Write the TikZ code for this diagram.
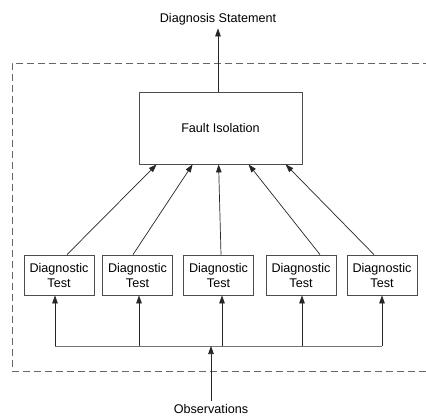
\documentclass[tikz,border=0pt]{standalone}
\usepackage{fontspec}
\setmainfont{Liberation Sans}
\usetikzlibrary{arrows.meta,calc}
\begin{document}
\begin{tikzpicture}[x=1pt,y=-1pt,
  every node/.style={font=\fontsize{12.6}{15}\selectfont},
  box/.style={draw=black!70, line width=0.8pt, inner sep=0pt, align=center},
  testbox/.style={box, minimum width=70pt, minimum height=40pt},
  conn/.style={draw=black!85, line width=0.7pt, -{Triangle[length=8pt,width=5.5pt]}},
  busline/.style={draw=black!55, line width=0.9pt},
  frame/.style={draw=black!60, line width=0.9pt, dash pattern=on 7pt off 4pt}]
\useasboundingbox[fill=white] (0,0) rectangle (426,417);
\draw[frame] (430,63) -- (12,63) -- (12,371) -- (430,371);
\node[box, minimum width=163pt, minimum height=72pt] (fault) at (220.5,128) {Fault Isolation};
\node (diag) at (218,19) {Diagnosis Statement};
\node (obs) at (211,409) {Observations};
\node[testbox] (t1) at (59,275) {Diagnostic\\Test};
\node[testbox] (t2) at (137.5,275) {Diagnostic\\Test};
\node[testbox] (t3) at (218.5,275) {Diagnostic\\Test};
\node[testbox] (t4) at (301,275) {Diagnostic\\Test};
\node[testbox] (t5) at (382,275) {Diagnostic\\Test};
\draw[conn] (fault.north -| diag) -- (diag.south);
\draw[conn] ([xshift=8pt]t1.north) -- ([xshift=18pt]fault.south west);
\draw[conn] ([xshift=-4.5pt]t2.north) -- ([xshift=54pt]fault.south west);
\draw[conn] ([xshift=2.5pt]t3.north) -- ([xshift=80pt]fault.south west);
\draw[conn] ([xshift=19pt]t4.north) -- ([xshift=110pt]fault.south west);
\draw[conn] ([xshift=-8pt]t5.north) -- ([xshift=147pt]fault.south west);
\coordinate (b1) at (55,346);
\coordinate (b2) at (139,346);
\coordinate (b3) at (222,346);
\coordinate (b4) at (302,346);
\coordinate (b5) at (382,346);
\coordinate (bo) at (211,346);
\draw[busline] (b1) -- (b5);
\foreach \i in {1,...,5} {\draw[conn] (b\i) -- (b\i |- t\i.south);}
\draw[conn] (obs.north) -- (bo);
\end{tikzpicture}
\end{document}
